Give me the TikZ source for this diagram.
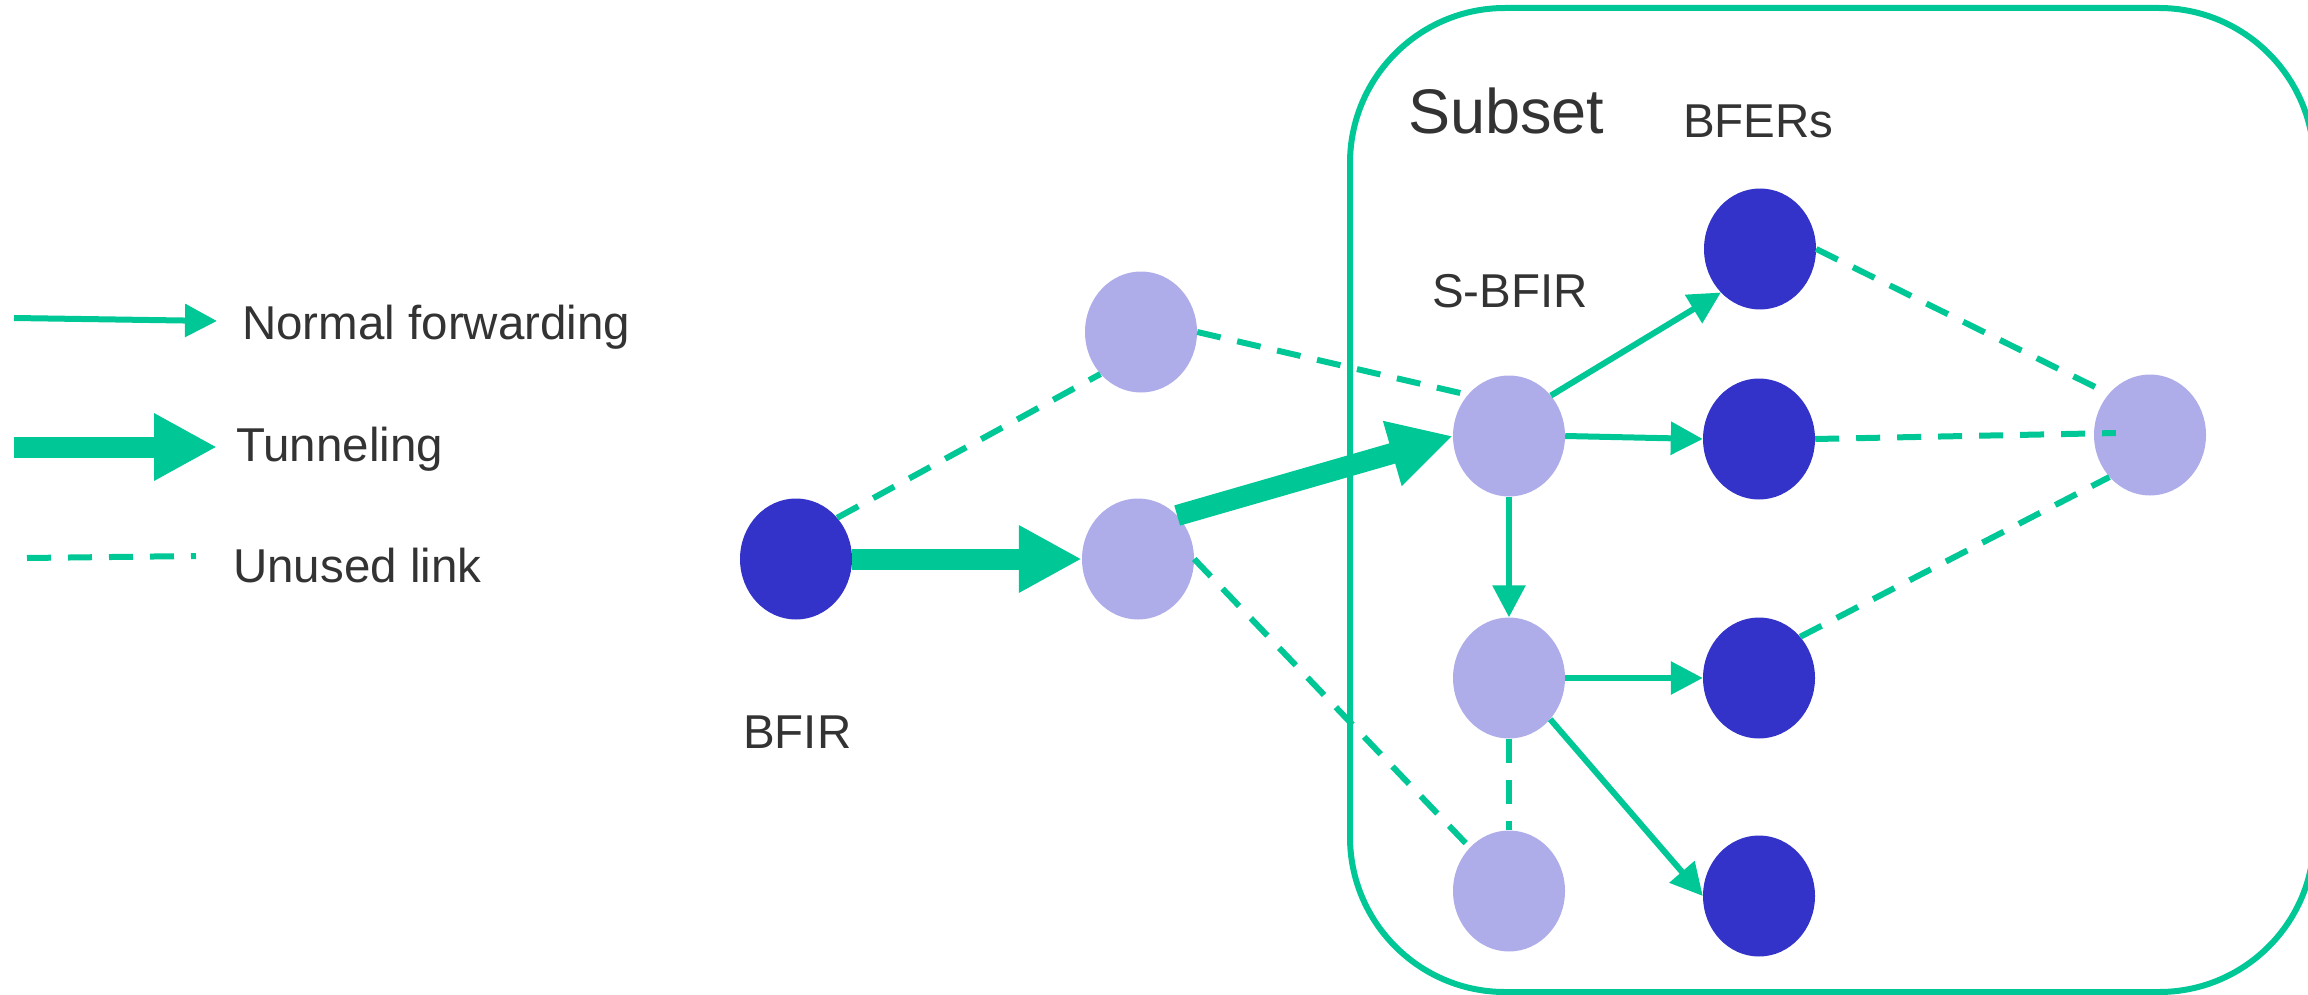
\documentclass[tikz,border=0pt]{standalone}
\usepackage{fontspec}
\setmainfont{Liberation Sans}
\usetikzlibrary{arrows.meta,shapes.geometric}
\definecolor{gr}{RGB}{0,199,150}
\definecolor{dk}{RGB}{52,51,201}
\definecolor{lt}{RGB}{174,173,234}
\definecolor{tx}{RGB}{51,51,51}
\begin{document}
\begin{tikzpicture}[x=1pt,y=-1pt,
  nd/.style={ellipse, minimum width=112pt, minimum height=121pt, inner sep=0pt, draw=none},
  dark/.style={nd, fill=dk},
  light/.style={nd, fill=lt},
  fwd/.style={draw=gr, line width=6pt, -{Triangle[length=32pt,width=32pt]}},
  tun/.style={draw=gr, line width=21pt, -{Triangle[length=63pt,width=63pt]}},
  unused/.style={draw=gr, line width=6pt, dash pattern=on 24pt off 17pt},
  lbl/.style={text=tx, font=\fontsize{47.5}{57}\selectfont, anchor=base west, inner sep=0pt}]
\useasboundingbox (0,0) rectangle (2308,995);
% subset frame
\draw[gr, line width=6pt, rounded corners=155pt] (1350,8) rectangle (2314,992);
% nodes
\node[dark]  (bfir)   at (796,559) {};
\node[light] (midtop) at (1141,332) {};
\node[light] (midbot) at (1138,559) {};
\node[light] (sbfir)  at (1509,436) {};
\node[light] (low)    at (1509,678) {};
\node[light] (bot)    at (1509,891) {};
\node[dark]  (d1)     at (1760,249) {};
\node[dark]  (d2)     at (1759,439) {};
\node[dark]  (d3)     at (1759,678) {};
\node[dark]  (d4)     at (1759,896) {};
\node[light] (right)  at (2150,435) {};
% labels
\node[lbl, font=\fontsize{63}{75}\selectfont] (tsub) at (1408,134) {Subset};
\node[lbl] (tbfers) at (1683,138) {BFERs};
\node[lbl] (tsbfir) at (1432,307) {S-BFIR};
\node[lbl] (tbfir)  at (743,748) {BFIR};
% unused links
\draw[unused] (bfir.45) -- (midtop.226);
\draw[unused] (midtop.east) -- (sbfir.135);
\draw[unused] (midbot.east) -- (bot.132);
\draw[unused] (low.south) -- (bot.north);
\draw[unused] (d1.east) -- (right.135);
\draw[unused] (d2.east) -- ([xshift=22pt,yshift=2pt]right.west);
\draw[unused] (d3.45) -- (right.226);
% tunneling
\draw[tun] (bfir.east) -- (midbot.west);
\draw[tun] (midbot.48) -- (sbfir.west);
% normal forwarding
\draw[fwd] (sbfir.44) -- (d1.228);
\draw[fwd] (sbfir.east) -- (d2.west);
\draw[fwd] (sbfir.south) -- (low.north);
\draw[fwd] (low.east) -- (d3.west);
\draw[fwd] (low.-45) -- (d4.west);
% legend
\coordinate (l1a) at (14,318);
\coordinate (l1b) at (217,321);
\coordinate (l2a) at (14,447);
\coordinate (l2b) at (217,447);
\coordinate (l3a) at (27,558);
\coordinate (l3b) at (196,556);
\draw[fwd] (l1a) -- (l1b);
\draw[tun] (l2a) -- (l2b);
\draw[unused] (l3a) -- (l3b);
\node[lbl] (tnf) at (242,339) {Normal forwarding};
\node[lbl] (ttu) at (236,461) {Tunneling};
\node[lbl] (tun) at (233,582) {Unused link};
\end{tikzpicture}
\end{document}
